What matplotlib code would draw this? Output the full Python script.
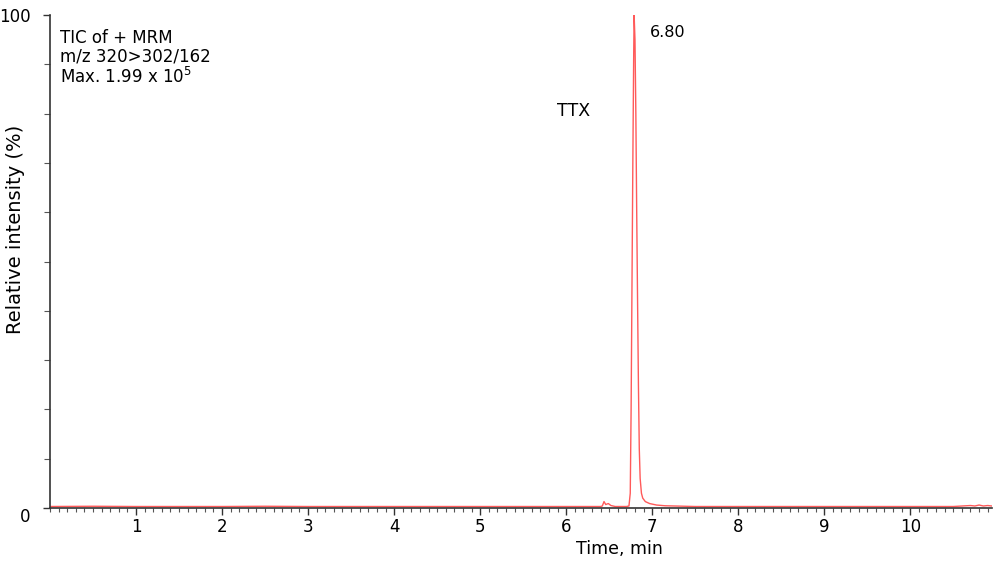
import numpy as np
import matplotlib.pyplot as plt
from matplotlib.ticker import MultipleLocator

# chromatogram points (time in min, relative intensity in %)
time_min = [0.0, 0.5, 1.0, 1.5, 2.0, 2.5, 3.0, 3.5, 4.0, 4.5, 5.0, 5.5, 6.0,
            6.40, 6.42, 6.44, 6.46, 6.49, 6.52, 6.57, 6.70,
            6.73, 6.745, 6.755, 6.765, 6.775, 6.785, 6.79, 6.80, 6.81, 6.82,
            6.83, 6.84, 6.85, 6.86, 6.875, 6.89, 6.92, 6.97, 7.05, 7.15,
            7.5, 8.0, 8.5, 9.0, 9.5, 10.0, 10.5, 10.7, 10.75, 10.8, 10.85, 10.9, 10.95]
intensity = [0.3, 0.35, 0.3, 0.3, 0.3, 0.35, 0.3, 0.3, 0.3, 0.3, 0.3, 0.3, 0.3,
             0.3, 0.4, 1.3, 0.7, 0.9, 0.5, 0.3, 0.3,
             0.4, 3, 20, 45, 70, 92, 100, 95, 80, 60,
             42, 25, 12, 6, 3, 2, 1.3, 0.9, 0.6, 0.45,
             0.3, 0.3, 0.3, 0.3, 0.3, 0.3, 0.3, 0.5, 0.4, 0.6, 0.4, 0.5, 0.4]

info_lines = ["TIC of + MRM", "m/z 320>302/162", "Max. 1.99 x 10$^5$"]
peak_label = "6.80"
compound = "TTX"

fig = plt.figure(figsize=(10, 5.61), dpi=100)
ax = fig.add_axes([0.05, 0.0945, 0.942, 0.8785])

ax.plot(time_min, intensity, color="#ff5a5a", lw=1.0)

ax.set_xlim(0, 10.95)
ax.set_ylim(0, 100)

for s in ["top", "right"]:
    ax.spines[s].set_visible(False)
for s in ["left", "bottom"]:
    ax.spines[s].set_color("#333333")
    ax.spines[s].set_linewidth(1.2)

ax.set_xticks(range(1, 11))
ax.xaxis.set_minor_locator(MultipleLocator(0.1))
ax.set_yticks([0, 100])
ax.yaxis.set_minor_locator(MultipleLocator(10))
ax.tick_params(axis="x", which="major", length=5, width=1, color="#333333",
               labelsize=12, pad=2)
ax.tick_params(axis="x", which="minor", length=3, width=0.8, color="#555555")
ax.tick_params(axis="y", which="major", length=5, width=1, color="#333333",
               labelsize=12, pad=9)
ax.tick_params(axis="y", which="minor", length=4, width=0.8, color="#555555")
ylabels = ax.get_yticklabels()
ylabels[0].set_va("top")

ax.set_xlabel("Time, min", fontsize=12.5)
ax.xaxis.set_label_coords(0.605, -0.065)
ax.set_ylabel("Relative intensity (%)", fontsize=14)
ax.yaxis.set_label_coords(-0.027, 0.566)

ax.text(0.011, 0.972, "\n".join(info_lines), transform=ax.transAxes,
        fontsize=12, va="top", ha="left", linespacing=1.05)
ax.text(6.97, 96.5, peak_label, fontsize=11.5, va="center", ha="left")
ax.text(6.09, 80.5, compound, fontsize=12.5, va="center", ha="center")

fig.savefig("out.png", dpi=100)
